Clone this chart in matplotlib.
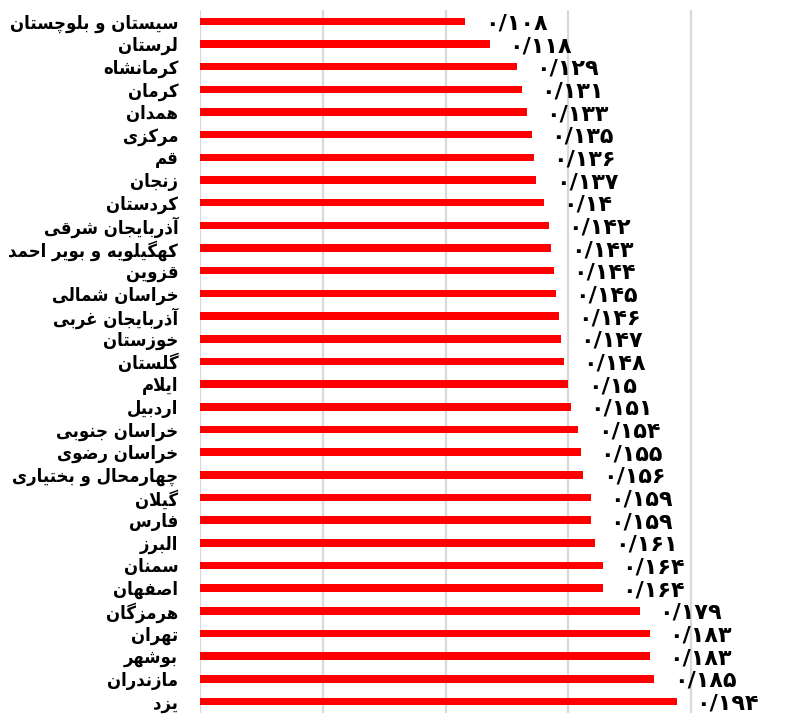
import matplotlib
matplotlib.use("Agg")
import matplotlib.pyplot as plt

provinces = [
    "سیستان و بلوچستان", "لرستان", "کرمانشاه", "کرمان", "همدان", "مرکزی",
    "قم", "زنجان", "کردستان", "آذربایجان شرقی", "کهگیلویه و بویر احمد",
    "قزوین", "خراسان شمالی", "آذربایجان غربی", "خوزستان", "گلستان",
    "ایلام", "اردبیل", "خراسان جنوبی", "خراسان رضوی", "چهارمحال و بختیاری",
    "گیلان", "فارس", "البرز", "سمنان", "اصفهان", "هرمزگان", "تهران",
    "بوشهر", "مازندران", "یزد",
]
values = [
    0.108, 0.118, 0.129, 0.131, 0.133, 0.135, 0.136, 0.137, 0.140, 0.142,
    0.143, 0.144, 0.145, 0.146, 0.147, 0.148, 0.150, 0.151, 0.154, 0.155,
    0.156, 0.159, 0.159, 0.161, 0.164, 0.164, 0.179, 0.183, 0.183, 0.185,
    0.194,
]

# presentation forms: (isolated, final, initial, medial); two entries = joins right only
FORMS = {
    "ا": (0xFE8D, 0xFE8E), "آ": (0xFE81, 0xFE82),
    "ب": (0xFE8F, 0xFE90, 0xFE91, 0xFE92), "پ": (0xFB56, 0xFB57, 0xFB58, 0xFB59),
    "ت": (0xFE95, 0xFE96, 0xFE97, 0xFE98), "ث": (0xFE99, 0xFE9A, 0xFE9B, 0xFE9C),
    "ج": (0xFE9D, 0xFE9E, 0xFE9F, 0xFEA0), "چ": (0xFB7A, 0xFB7B, 0xFB7C, 0xFB7D),
    "ح": (0xFEA1, 0xFEA2, 0xFEA3, 0xFEA4), "خ": (0xFEA5, 0xFEA6, 0xFEA7, 0xFEA8),
    "د": (0xFEA9, 0xFEAA), "ذ": (0xFEAB, 0xFEAC), "ر": (0xFEAD, 0xFEAE),
    "ز": (0xFEAF, 0xFEB0), "ژ": (0xFB8A, 0xFB8B),
    "س": (0xFEB1, 0xFEB2, 0xFEB3, 0xFEB4), "ش": (0xFEB5, 0xFEB6, 0xFEB7, 0xFEB8),
    "ص": (0xFEB9, 0xFEBA, 0xFEBB, 0xFEBC), "ض": (0xFEBD, 0xFEBE, 0xFEBF, 0xFEC0),
    "ط": (0xFEC1, 0xFEC2, 0xFEC3, 0xFEC4), "ظ": (0xFEC5, 0xFEC6, 0xFEC7, 0xFEC8),
    "ع": (0xFEC9, 0xFECA, 0xFECB, 0xFECC), "غ": (0xFECD, 0xFECE, 0xFECF, 0xFED0),
    "ف": (0xFED1, 0xFED2, 0xFED3, 0xFED4), "ق": (0xFED5, 0xFED6, 0xFED7, 0xFED8),
    "ک": (0xFB8E, 0xFB8F, 0xFB90, 0xFB91), "گ": (0xFB92, 0xFB93, 0xFB94, 0xFB95),
    "ل": (0xFEDD, 0xFEDE, 0xFEDF, 0xFEE0), "م": (0xFEE1, 0xFEE2, 0xFEE3, 0xFEE4),
    "ن": (0xFEE5, 0xFEE6, 0xFEE7, 0xFEE8), "و": (0xFEED, 0xFEEE),
    "ه": (0xFEE9, 0xFEEA, 0xFEEB, 0xFEEC), "ی": (0xFBFC, 0xFBFD, 0xFBFE, 0xFBFF),
}
LAM_ALEF = {"ا": (0xFEFB, 0xFEFC), "آ": (0xFEF5, 0xFEF6)}


def shape(text):
    chars = list(text)
    out = []
    i = 0
    while i < len(chars):
        c = chars[i]
        if c not in FORMS:
            out.append(c)
            i += 1
            continue
        prev = chars[i - 1] if i > 0 else None
        joins_prev = prev in FORMS and len(FORMS[prev]) == 4
        if c == "ل" and i + 1 < len(chars) and chars[i + 1] in LAM_ALEF:
            iso, fin = LAM_ALEF[chars[i + 1]]
            out.append(chr(fin if joins_prev else iso))
            i += 2
            continue
        nxt = chars[i + 1] if i + 1 < len(chars) else None
        f = FORMS[c]
        joins_next = len(f) == 4 and nxt in FORMS
        if joins_prev and joins_next:
            out.append(chr(f[3]))
        elif joins_prev:
            out.append(chr(f[1]))
        elif joins_next:
            out.append(chr(f[2]))
        else:
            out.append(chr(f[0]))
        i += 1
    return "".join(reversed(out))


def persian_num(v):
    s = f"{v:.3f}".rstrip("0").replace(".", "/")
    return s.translate(str.maketrans("0123456789", "۰۱۲۳۴۵۶۷۸۹"))


fig = plt.figure(figsize=(8.02, 7.15), dpi=100)
ax = fig.add_axes([0.249, 0.003, 0.751, 0.983])

y = list(range(len(values)))
ax.barh(y, values, height=0.33, color="#ff0000", zorder=3)
ax.set_ylim(len(values) - 0.5, -0.5)
ax.set_xlim(0, 0.245)

for yi, v in zip(y, values):
    ax.annotate(persian_num(v), (v, yi), xytext=(14, -1.5), textcoords="offset points",
                ha="left", va="center", fontsize=16, fontweight="bold",
                family="DejaVu Sans")

ax.set_yticks(y)
ax.set_yticklabels([shape(p) for p in provinces], fontsize=13.2, fontweight="bold",
                   family="DejaVu Sans", fontstretch="condensed")
ax.tick_params(axis="y", length=0, pad=15.5)
ax.tick_params(axis="x", length=0, labelbottom=False)
ax.set_xticks([0, 0.05, 0.10, 0.15, 0.20])
ax.grid(axis="x", color="#d9d9d9", linewidth=1.6, zorder=0)
for side in ["top", "right", "bottom", "left"]:
    ax.spines[side].set_visible(False)

fig.savefig("out.png", dpi=100)
